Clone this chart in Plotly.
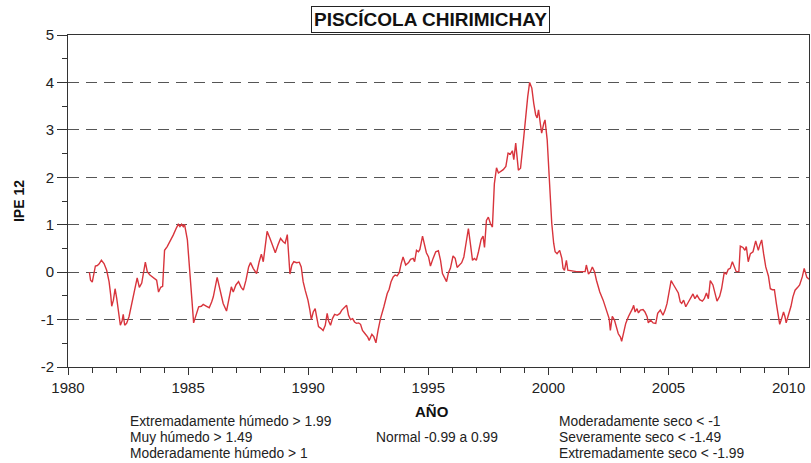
import plotly.graph_objects as go

title_text = "PISCÍCOLA CHIRIMICHAY"
y_title = "IPE 12"
x_title = "AÑO"

years = [1980.89, 1980.94, 1981.01, 1981.05, 1981.14, 1981.22, 1981.29, 1981.39, 1981.50, 1981.61,
         1981.71, 1981.78, 1981.82, 1981.89, 1981.96, 1982.03, 1982.11, 1982.18, 1982.25, 1982.30,
         1982.36, 1982.44, 1982.54, 1982.65, 1982.75, 1982.88, 1982.97, 1983.07, 1983.22, 1983.30,
         1983.41, 1983.55, 1983.69, 1983.77, 1983.86, 1983.94, 1984.02, 1984.13, 1984.24, 1984.38,
         1984.52, 1984.59, 1984.66, 1984.73, 1984.80, 1984.85, 1984.97, 1985.08, 1985.16, 1985.23,
         1985.33, 1985.44, 1985.55, 1985.63, 1985.77, 1985.88, 1985.98, 1986.05, 1986.21, 1986.33,
         1986.46, 1986.60, 1986.71, 1986.80, 1986.88, 1986.99, 1987.10, 1987.21, 1987.30, 1987.41,
         1987.52, 1987.60, 1987.71, 1987.85, 1987.96, 1988.05, 1988.13, 1988.21, 1988.29, 1988.41,
         1988.52, 1988.63, 1988.74, 1988.85, 1988.96, 1989.04, 1989.13, 1989.18, 1989.24, 1989.32,
         1989.40, 1989.52, 1989.63, 1989.71, 1989.79, 1989.88, 1989.99, 1990.07, 1990.13, 1990.21,
         1990.29, 1990.35, 1990.43, 1990.54, 1990.62, 1990.71, 1990.79, 1990.85, 1990.93, 1991.01,
         1991.10, 1991.21, 1991.32, 1991.40, 1991.60, 1991.68, 1991.76, 1991.85, 1991.93, 1992.01,
         1992.10, 1992.18, 1992.26, 1992.37, 1992.48, 1992.54, 1992.65, 1992.73, 1992.82, 1992.91,
         1993.01, 1993.15, 1993.29, 1993.37, 1993.45, 1993.54, 1993.62, 1993.70, 1993.79, 1993.87,
         1993.95, 1994.06, 1994.18, 1994.26, 1994.37, 1994.43, 1994.51, 1994.59, 1994.65, 1994.76,
         1994.84, 1994.92, 1995.01, 1995.09, 1995.20, 1995.31, 1995.42, 1995.51, 1995.59, 1995.67,
         1995.76, 1995.84, 1995.92, 1996.03, 1996.12, 1996.20, 1996.31, 1996.39, 1996.48, 1996.59,
         1996.67, 1996.76, 1996.84, 1996.92, 1997.00, 1997.09, 1997.20, 1997.28, 1997.34, 1997.42,
         1997.50, 1997.59, 1997.67, 1997.75, 1997.84, 1997.92, 1998.03, 1998.12, 1998.23, 1998.32,
         1998.42, 1998.50, 1998.56, 1998.64, 1998.75, 1998.84, 1998.95, 1999.06, 1999.14, 1999.22,
         1999.31, 1999.39, 1999.47, 1999.53, 1999.59, 1999.67, 1999.72, 1999.81, 1999.86, 1999.95,
         2000.06, 2000.14, 2000.22, 2000.28, 2000.36, 2000.47, 2000.56, 2000.61, 2000.67, 2000.75,
         2000.81, 2000.89, 2001.17, 2001.53, 2001.58, 2001.67, 2001.75, 2001.83, 2001.92, 2002.00,
         2002.14, 2002.28, 2002.41, 2002.53, 2002.58, 2002.66, 2002.75, 2002.83, 2002.91, 2003.00,
         2003.05, 2003.14, 2003.22, 2003.33, 2003.41, 2003.50, 2003.55, 2003.61, 2003.69, 2003.75,
         2003.83, 2003.94, 2004.02, 2004.11, 2004.16, 2004.25, 2004.36, 2004.47, 2004.55, 2004.66,
         2004.77, 2004.86, 2004.94, 2005.02, 2005.11, 2005.19, 2005.33, 2005.41, 2005.49, 2005.55,
         2005.63, 2005.72, 2005.83, 2005.94, 2006.02, 2006.10, 2006.19, 2006.30, 2006.41, 2006.49,
         2006.58, 2006.66, 2006.74, 2006.85, 2006.94, 2007.02, 2007.13, 2007.21, 2007.32, 2007.41,
         2007.49, 2007.57, 2007.66, 2007.74, 2007.82, 2007.93, 2007.99, 2008.10, 2008.18, 2008.24,
         2008.32, 2008.41, 2008.52, 2008.63, 2008.74, 2008.80, 2008.88, 2008.96, 2009.05, 2009.16,
         2009.24, 2009.32, 2009.41, 2009.49, 2009.57, 2009.63, 2009.71, 2009.79, 2009.85, 2009.90,
         2009.99, 2010.10, 2010.18, 2010.27, 2010.38, 2010.46, 2010.57, 2010.65, 2010.76, 2010.85]

ipe12 = [0.00, -0.17, -0.21, -0.10, 0.13, 0.14, 0.17, 0.25, 0.18, 0.04,
         -0.20, -0.49, -0.72, -0.59, -0.35, -0.56, -0.87, -1.12, -1.03, -0.89,
         -1.12, -1.08, -0.94, -0.66, -0.38, -0.12, -0.32, -0.23, 0.21, 0.01,
         -0.06, -0.11, -0.17, -0.42, -0.32, -0.30, 0.46, 0.54, 0.64, 0.78,
         0.94, 1.01, 0.96, 1.01, 0.96, 1.01, 0.68, 0.04, -0.59, -1.07,
         -0.91, -0.73, -0.72, -0.68, -0.72, -0.75, -0.63, -0.52, -0.11, -0.38,
         -0.66, -0.82, -0.49, -0.31, -0.42, -0.27, -0.20, -0.32, -0.38, -0.17,
         0.11, 0.20, 0.08, -0.03, 0.22, 0.38, 0.22, 0.54, 0.86, 0.71,
         0.54, 0.41, 0.57, 0.71, 0.64, 0.61, 0.79, 0.46, -0.04, 0.15,
         0.22, 0.20, 0.21, 0.11, -0.20, -0.39, -0.59, -0.80, -1.00, -0.84,
         -0.77, -0.94, -1.15, -1.19, -1.23, -1.12, -0.87, -1.03, -1.12, -0.98,
         -0.89, -0.91, -0.87, -0.80, -0.70, -0.91, -1.00, -0.98, -1.05, -1.08,
         -1.07, -1.10, -1.23, -1.30, -1.37, -1.44, -1.31, -1.36, -1.49, -1.22,
         -0.98, -0.73, -0.45, -0.36, -0.20, -0.10, -0.06, -0.08, -0.01, 0.18,
         0.32, 0.15, 0.20, 0.27, 0.29, 0.22, 0.46, 0.43, 0.48, 0.76,
         0.57, 0.41, 0.32, 0.13, 0.29, 0.43, 0.45, 0.25, -0.03, -0.10,
         -0.20, -0.01, 0.08, 0.34, 0.29, 0.10, 0.15, 0.20, 0.32, 0.64,
         0.92, 0.57, 0.25, 0.29, 0.25, 0.43, 0.69, 0.76, 0.52, 1.09,
         1.16, 1.02, 0.95, 1.86, 2.20, 2.09, 2.13, 2.16, 2.23, 2.51,
         2.49, 2.56, 2.37, 2.72, 2.15, 2.19, 2.72, 3.35, 3.70, 4.00,
         3.88, 3.56, 3.32, 3.25, 3.42, 3.11, 2.93, 3.14, 3.21, 2.79,
         1.80, 1.03, 0.61, 0.43, 0.39, 0.46, 0.29, 0.08, 0.04, 0.25,
         0.04, 0.03, 0.01, 0.01, 0.15, -0.04, 0.01, 0.11, 0.01, -0.17,
         -0.42, -0.59, -0.80, -0.98, -1.23, -0.93, -1.01, -1.19, -1.30, -1.37,
         -1.46, -1.26, -1.08, -0.94, -0.87, -0.77, -0.70, -0.84, -0.77, -0.86,
         -0.80, -0.79, -0.84, -0.94, -1.07, -1.01, -1.07, -1.08, -0.87, -0.80,
         -0.91, -0.80, -0.66, -0.45, -0.18, -0.25, -0.38, -0.44, -0.63, -0.66,
         -0.59, -0.73, -0.63, -0.52, -0.46, -0.56, -0.49, -0.58, -0.61, -0.56,
         -0.44, -0.56, -0.18, -0.27, -0.49, -0.61, -0.51, -0.35, -0.01, -0.04,
         0.06, 0.08, 0.22, 0.11, 0.01, 0.01, 0.55, 0.52, 0.46, 0.54,
         0.22, 0.39, 0.43, 0.66, 0.46, 0.57, 0.68, 0.39, 0.11, -0.08,
         -0.35, -0.37, -0.37, -0.66, -0.91, -1.10, -0.98, -0.84, -0.94, -1.07,
         -0.91, -0.72, -0.52, -0.38, -0.32, -0.27, -0.10, 0.08, -0.11, -0.15]

x_tickvals = [1980, 1985, 1990, 1995, 2000, 2005, 2010]
y_tickvals = [-2, -1, 0, 1, 2, 3, 4, 5]
y_ticktext = ["-2", "-1", "0", "1", "2", "3", "4", "5"]

wet_labels = ["Extremadamente húmedo > 1.99", "Muy húmedo > 1.49", "Moderadamente húmedo > 1"]
normal_label = "Normal -0.99 a 0.99"
dry_labels = ["Moderadamente seco < -1", "Severamente seco < -1.49", "Extremadamente seco < -1.99"]

fig = go.Figure()
fig.add_trace(go.Scatter(x=years, y=ipe12, mode="lines",
                         line=dict(color="#d8343c", width=1.4), showlegend=False))

axis_font = dict(family="Liberation Sans, Arial, sans-serif", size=15, color="#222")
fig.update_layout(
    width=811, height=463,
    margin=dict(l=68, r=2, t=35, b=96),
    paper_bgcolor="white", plot_bgcolor="white",
    xaxis=dict(range=[1980, 2010.85], tickvals=x_tickvals, ticks="outside", ticklen=7,
               tickcolor="#333", showline=True, linecolor="#333", linewidth=1, mirror=True,
               showgrid=False, zeroline=False, tickfont=axis_font,
               minor=dict(dtick=1, ticks="outside", ticklen=5, tickcolor="#333", showgrid=False)),
    yaxis=dict(range=[-2, 5], tickvals=y_tickvals, ticktext=y_ticktext, ticks="outside", ticklen=10,
               tickcolor="#333", showline=True, linecolor="#333", linewidth=1, mirror=True,
               showgrid=True, gridcolor="#555", griddash="11px,7px", gridwidth=1.3,
               zeroline=False, tickfont=axis_font,
               title=dict(text="<b>" + y_title + "</b>", font=dict(family="Liberation Sans, Arial", size=14, color="#111"), standoff=12),
               minor=dict(dtick=0.5, ticks="outside", ticklen=5, tickcolor="#333", showgrid=False)),
)

def px2paper_x(px):
    return (px - 68) / 741.0

def px2paper_y(py):
    return (367 - py) / 332.0

fig.add_annotation(text="<b>" + title_text + "</b>", xref="paper", yref="paper",
                   x=px2paper_x(430), y=px2paper_y(19), xanchor="center", yanchor="middle",
                   showarrow=False, bordercolor="#222", borderwidth=1, borderpad=2,
                   font=dict(family="Liberation Sans, Arial", size=19, color="#111"))

fig.add_annotation(text="<b>" + x_title + "</b>", xref="paper", yref="paper",
                   x=px2paper_x(432), y=px2paper_y(412), xanchor="center", yanchor="middle",
                   showarrow=False, font=dict(family="Liberation Sans, Arial", size=15, color="#111"))

small = dict(family="Liberation Sans, Arial, sans-serif", size=13.8, color="#222")
for i, t in enumerate(wet_labels):
    fig.add_annotation(text=t, xref="paper", yref="paper", x=px2paper_x(128), y=px2paper_y(421 + 16 * i),
                       xanchor="left", yanchor="middle", showarrow=False, font=small)
fig.add_annotation(text=normal_label, xref="paper", yref="paper", x=px2paper_x(437), y=px2paper_y(437),
                   xanchor="center", yanchor="middle", showarrow=False, font=small)
for i, t in enumerate(dry_labels):
    fig.add_annotation(text=t, xref="paper", yref="paper", x=px2paper_x(557), y=px2paper_y(421 + 16 * i),
                       xanchor="left", yanchor="middle", showarrow=False, font=small)

fig.write_html("out.html", config={"displayModeBar": False},
               post_script="document.body.style.margin='0';document.body.style.overflow='hidden';")
